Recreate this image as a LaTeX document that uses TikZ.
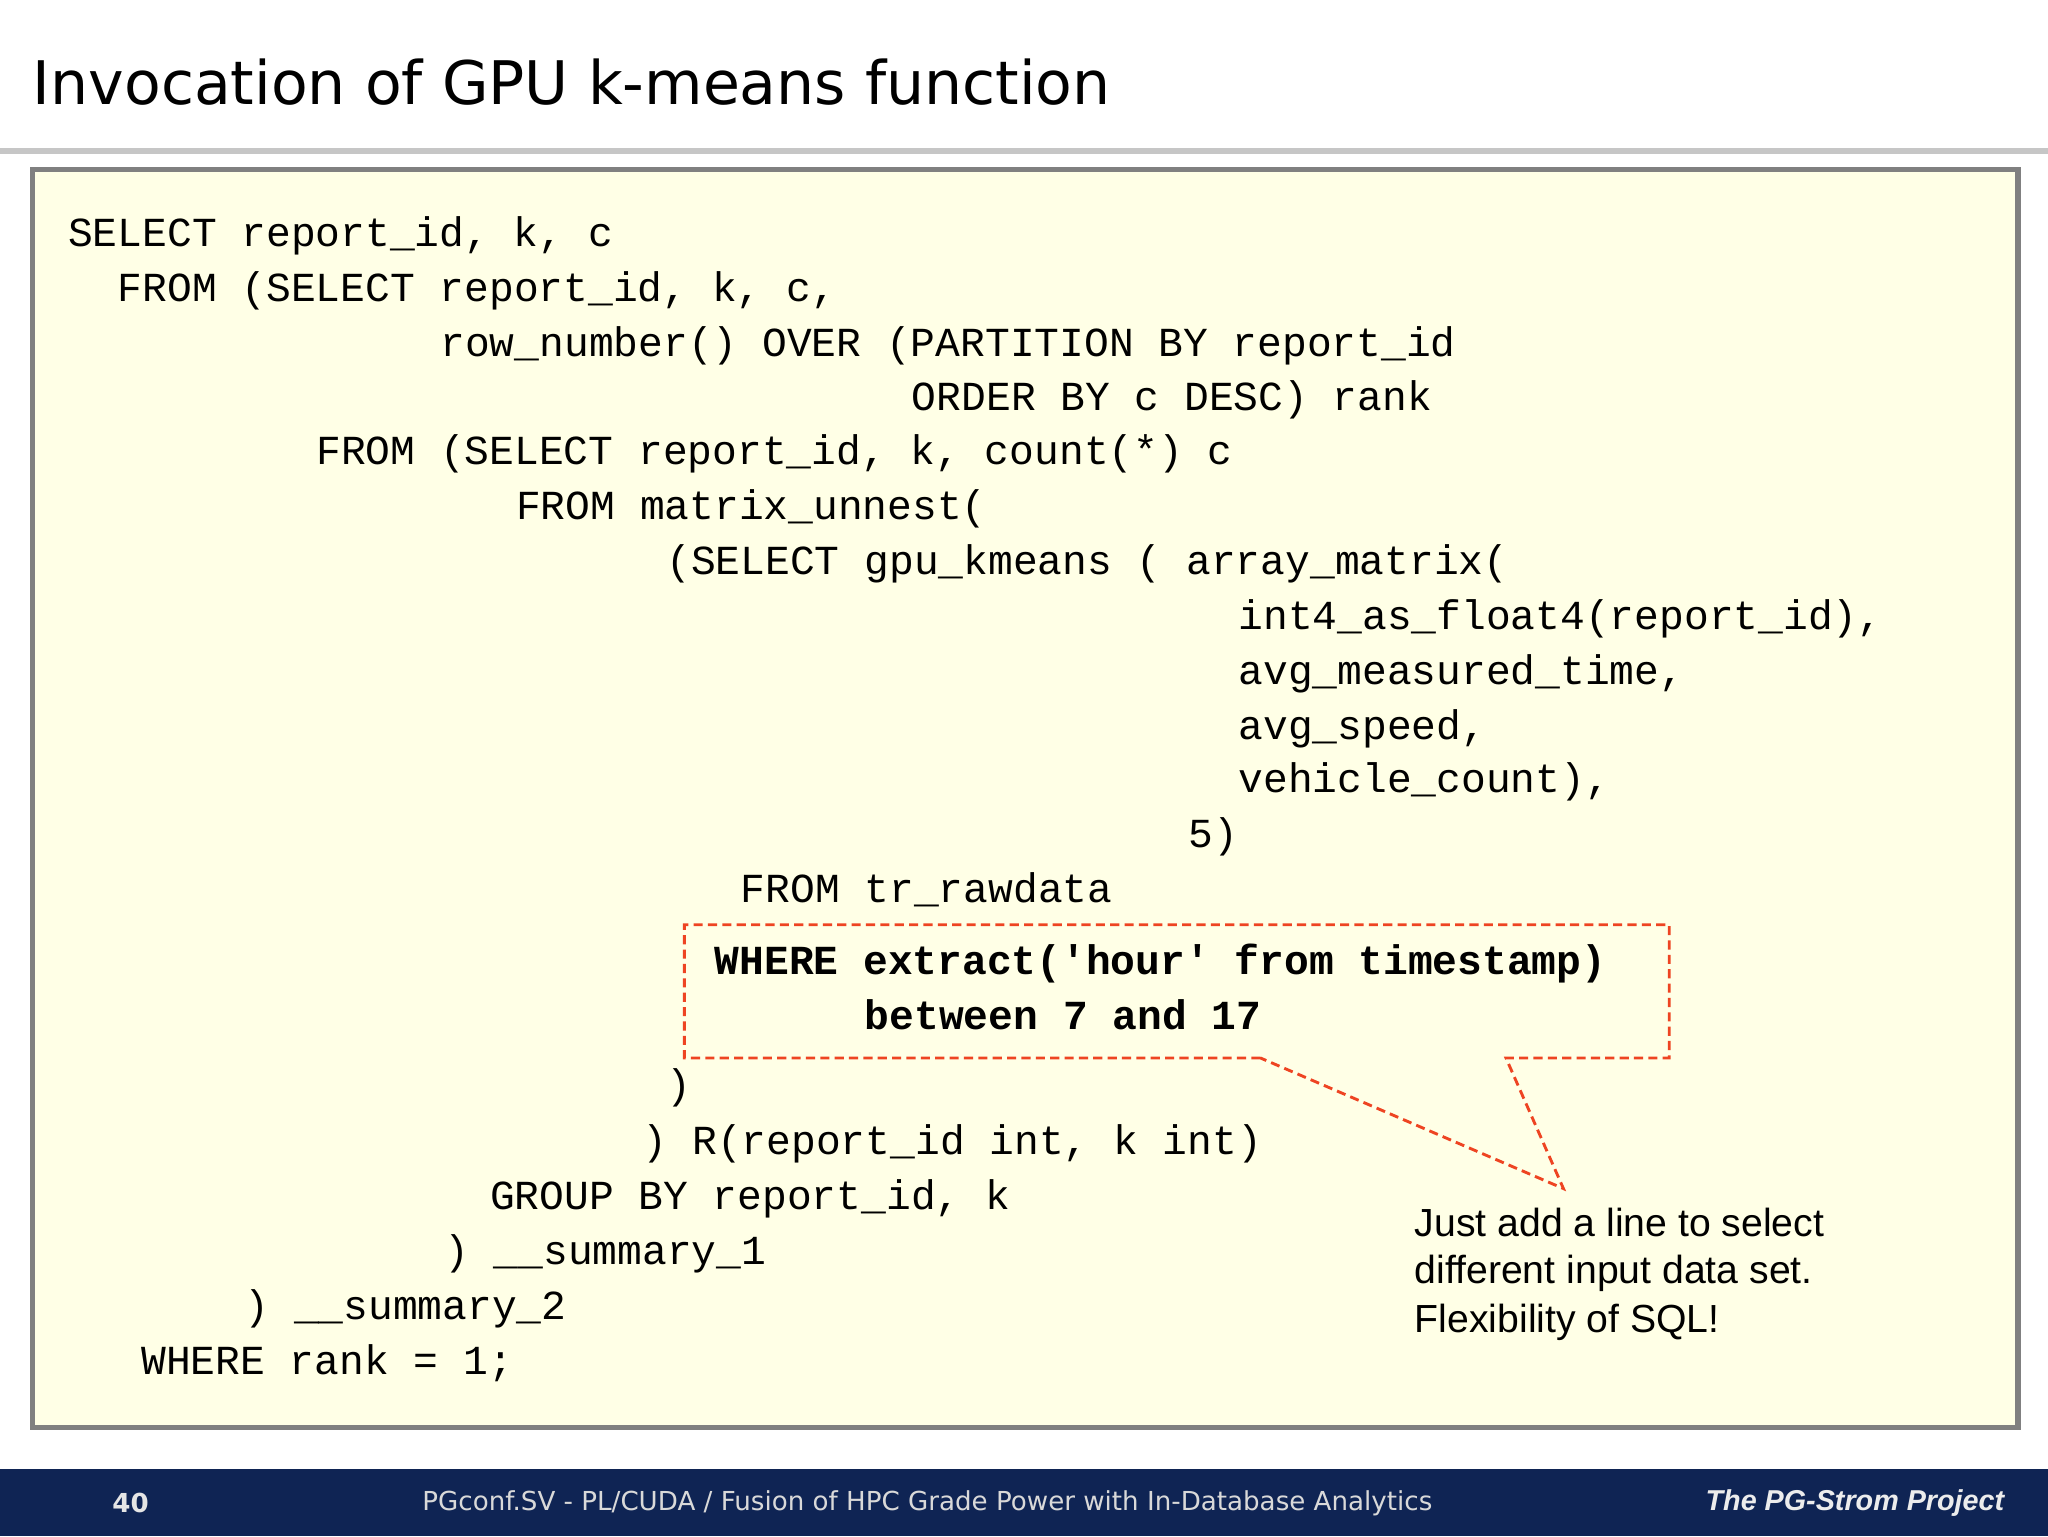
\documentclass[tikz,border=0pt]{standalone}
\usepackage{fontspec}
\setmainfont{DejaVu Sans}
\newfontfamily\codefont{Liberation Mono}
\newfontfamily\callfont{Liberation Sans}
\definecolor{boxfill}{HTML}{FFFFE6}
\definecolor{boxline}{HTML}{808080}
\definecolor{callred}{HTML}{EE4422}
\definecolor{footbg}{HTML}{0F2454}
\begin{document}
\begin{tikzpicture}[x=1pt,y=-1pt,
  code/.style={anchor=base west,inner sep=0pt,font=\codefont\fontsize{31.6}{36}\selectfont},
  bcode/.style={code,font=\codefont\bfseries\fontsize{31.6}{36}\selectfont},
  call/.style={anchor=base west,inner sep=0pt,font=\callfont\fontsize{30}{34}\selectfont}]
\useasboundingbox (0,0) rectangle (1568,1176);
\fill[white] (0,0) rectangle (1568,1176);
\node[anchor=base west,inner sep=0pt,font=\fontsize{46}{50}\selectfont] (title) at (25,80) {Invocation of GPU k-means function};
\fill[gray!45] (0,113) rectangle (1568,118);
\draw[boxline,line width=4pt,fill=boxfill] (25,130) rectangle (1545,1093);
\def\b{11}
\node[code] (l1) at (52,178+\b) {SELECT report\_id, k, c};
\node[code] (l2) at (90,220+\b) {FROM (SELECT report\_id, k, c,};
\node[code] (l3) at (337,262+\b) {row\_number() OVER (PARTITION BY report\_id};
\node[code] (l4) at (698,303+\b) {ORDER BY c DESC) rank};
\node[code] (l5) at (242,345+\b) {FROM (SELECT report\_id, k, count(*) c};
\node[code] (l6) at (395,387+\b) {FROM matrix\_unnest(};
\node[code] (l7) at (510,429+\b) {(SELECT gpu\_kmeans ( array\_matrix(};
\node[code] (l8) at (948,471+\b) {int4\_as\_float4(report\_id),};
\node[code] (l9) at (948,513+\b) {avg\_measured\_time,};
\node[code] (l10) at (948,555+\b) {avg\_speed,};
\node[code] (l11) at (948,596+\b) {vehicle\_count),};
\node[code] (l12) at (910,638+\b) {5)};
\node[code] (l13) at (567,680+\b) {FROM tr\_rawdata};
\node[bcode] (l14) at (547,735+\b) {WHERE extract('hour' from timestamp)};
\node[bcode] (l15) at (662,777+\b) {between 7 and 17};
\node[code] (l16) at (510,830+\b) {)};
\node[code] (l17) at (492,873+\b) {) R(report\_id int, k int)};
\node[code] (l18) at (375,915+\b) {GROUP BY report\_id, k};
\node[code] (l19) at (340,957+\b) {) \_\_summary\_1};
\node[code] (l20) at (187,999+\b) {) \_\_summary\_2};
\node[code] (l21) at (108,1041+\b) {WHERE rank = 1;};
\draw[callred,line width=2.2pt,dash pattern=on 7pt off 4pt]
  (965,810) -- (524,810) -- (524,708) -- (1278,708) -- (1278,810) -- (1153,810) -- (1197,910) -- cycle;
\node[call] (c1) at (1083,947) {Just add a line to select};
\node[call] (c2) at (1083,983) {different input data set.};
\node[call] (c3) at (1083,1020) {Flexibility of SQL!};
\fill[footbg] (0,1125) rectangle (1568,1176);
\node[font=\bfseries\fontsize{20}{24}\selectfont,text=gray!20] (pg) at (100,1151) {40};
\node[font=\fontsize{20}{24}\selectfont,text=gray!30] (ft) at (710,1151) {PGconf.SV - PL/CUDA / Fusion of HPC Grade Power with In-Database Analytics};
\node[anchor=east,font=\callfont\bfseries\itshape\fontsize{22}{26}\selectfont,text=gray!15] (pj) at (1538,1151) {The PG-Strom Project};
\end{tikzpicture}
\end{document}
